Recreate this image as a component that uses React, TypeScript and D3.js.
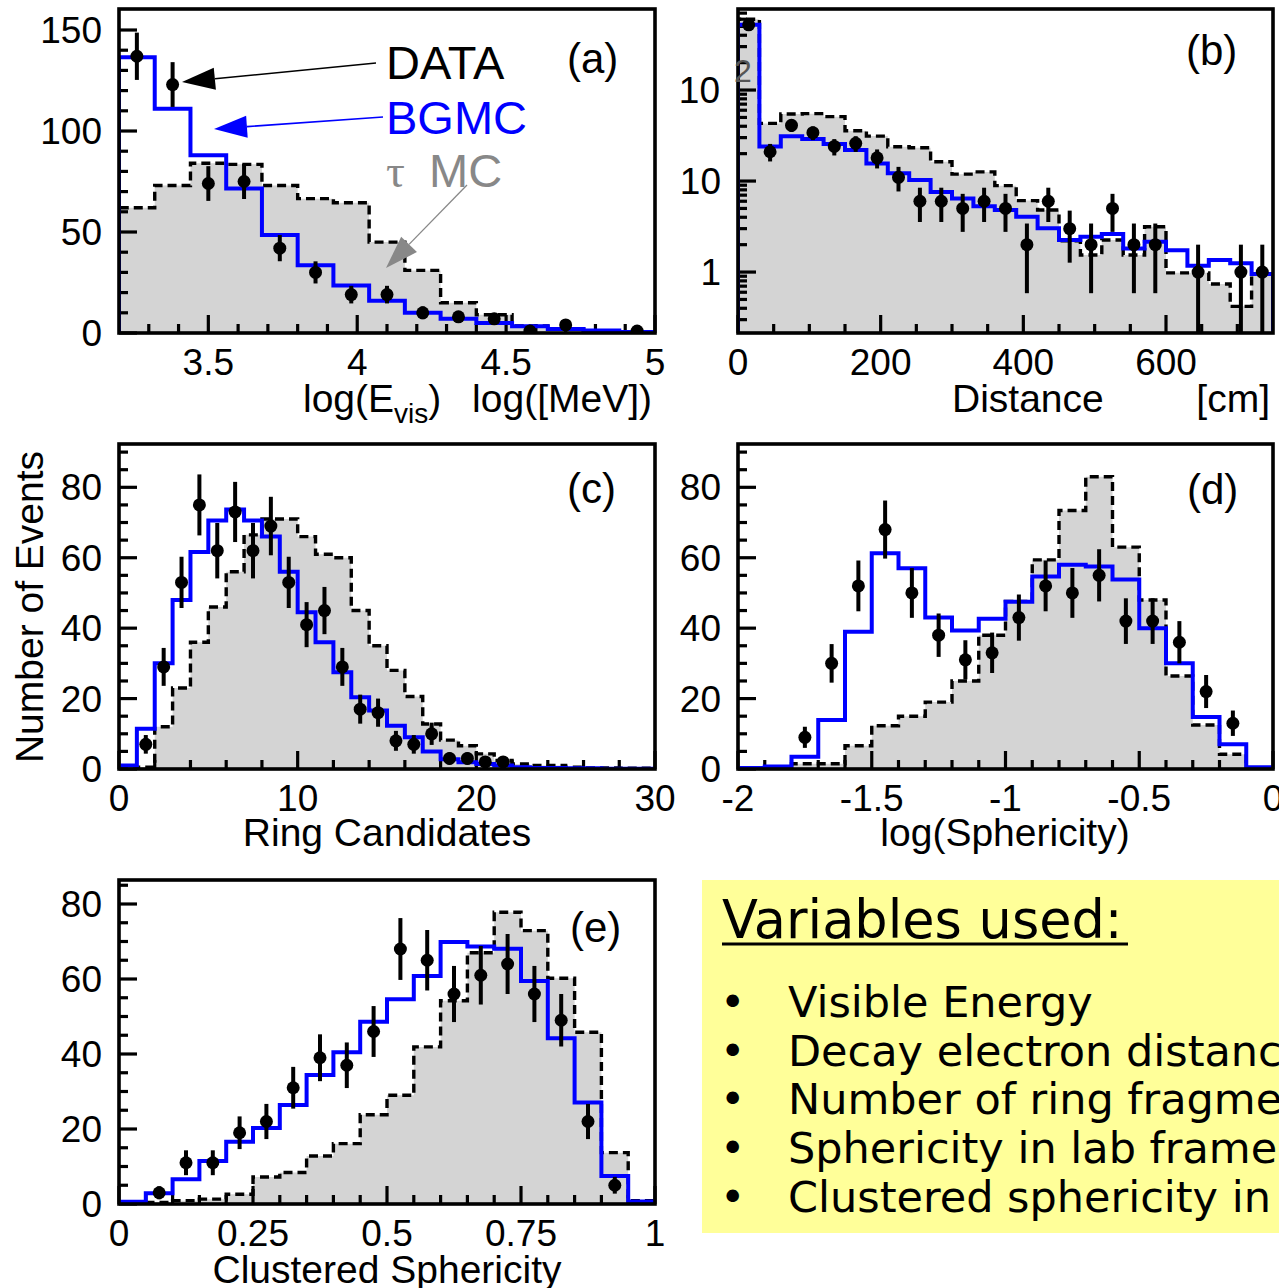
import React from 'react';
import * as d3 from 'd3';

const FONT = '"Liberation Sans", Arial, Helvetica, sans-serif';
const BOX_FONT = '"DejaVu Sans", Verdana, sans-serif';
const BLUE = '#0000ff';
const FILL = '#d4d4d4';

// (a) visible energy, log10(E / MeV): 15 bins of 0.12 from 3.2
const evisBinStart = 3.2;
const evisBinWidth = 0.12;
const evisBGMC = [136.5, 111, 88, 71.5, 48.5, 33.5, 23.5, 16, 10, 7, 5, 3.3, 2, 1.2, 0.5];
const evisTauMC = [62, 73, 84, 83.5, 73, 66.5, 64.5, 45, 31, 15, 9, 3.5, 2, 1, 0.5];
const evisData = [137, 123, 74, 75, 42, 30, 19, 19, 10, 8, 7, 1, 4, 0, 1];

// (b) decay electron distance [cm]: 25 bins of 30 cm
const distBinStart = 0;
const distBinWidth = 30;
const distBGMC = [520, 24, 31, 29, 25.5, 21.9, 15.6, 12.2, 10.3, 7.6, 6.45, 5.3, 4.8, 4.05, 3.02, 2.25, 2.44, 2.62, 1.82, 2.15, 1.74, 1.17, 1.36, 1.25, 0.95];
const distTauMC = [600, 43, 54.5, 55, 51, 35.7, 31.2, 23.8, 23.2, 16.3, 11.9, 12.6, 8.9, 6.1, 4.8, 2.2, 1.54, 2.25, 1.54, 3.15, 0.98, 0.98, 0.74, 0.42, 0.95];
const distData = [520, 21, 41, 34, 24, 26, 18, 11, 6, 6, 5, 6, 5, 2, 6, 3, 2, 5, 2, 2, 0, 1, 0, 1, 1];

// (c) number of ring candidates: 30 unit bins
const ringBinStart = 0;
const ringBinWidth = 1;
const ringBGMC = [1, 11.4, 30, 48, 61.6, 70.6, 73.7, 70.6, 66, 56, 44.5, 36, 27.5, 20.4, 16.6, 12.3, 9, 5, 2.8, 1.9, 1.4, 1, 0.5, 0.3, 0.3, 0.2, 0.2, 0.1, 0.1, 0.1];
const ringTauMC = [0, 0.5, 12, 23, 36, 46, 56, 66.5, 71, 71, 66, 61, 60, 45, 35, 28, 20.6, 12.8, 8.2, 6.6, 4.3, 2.4, 1.4, 1, 1, 0.5, 0.3, 0.3, 0.2, 0.2];
const ringData = [0, 7, 29, 53, 75, 62, 73, 62, 69, 53, 41, 45, 29, 17, 16, 8, 7, 10, 3, 3, 2, 2, 0, 0, 0, 0, 0, 0, 0, 0];

// (d) log10(sphericity): 20 bins of 0.1 from -2
const spherBinStart = -2;
const spherBinWidth = 0.1;
const spherBGMC = [0.3, 0.7, 3.5, 13.9, 39, 61.3, 57, 43, 39.3, 42.7, 47.5, 54.7, 58, 57.5, 53.8, 40, 30, 14.8, 7, 0.5];
const spherTauMC = [0, 0.2, 1.5, 1.5, 6.6, 12.3, 15, 19, 25, 38, 47.6, 59.4, 73.4, 83, 63, 48, 26.4, 12.5, 4.2, 0.3];
const spherData = [0, 0, 9, 30, 52, 68, 50, 38, 31, 33, 43, 52, 50, 55, 42, 42, 36, 22, 13, 0];

// (e) clustered sphericity: 20 bins of 0.05
const clusBinStart = 0;
const clusBinWidth = 0.05;
const clusBGMC = [0.6, 2.9, 6.6, 11.5, 16.6, 20.3, 26.4, 34.4, 40.5, 48.6, 54.6, 60.8, 69.9, 68.7, 68.1, 59.5, 44.2, 27.1, 7.5, 0.7];
const clusTauMC = [0.2, 0.4, 0.9, 1.3, 2.6, 7.2, 8.4, 12.8, 16.1, 23.8, 29, 41.9, 54.2, 67, 77.8, 72.9, 60.2, 45.8, 13.7, 0.9];
const clusData = [0, 3, 11, 11, 19, 22, 31, 39, 37, 46, 68, 65, 56, 61, 64, 56, 49, 22, 5, 0];

// tick values
const evisXMajor = [3.5, 4, 4.5, 5];
const evisYMajor = [0, 50, 100, 150];
const distXMajor = [0, 200, 400, 600];
const distYMajor = [1, 10, 100];
const ringXMajor = [0, 10, 20, 30];
const countYMajor = [0, 20, 40, 60, 80];
const spherXMajor = [-2, -1.5, -1, -0.5, 0];
const clusXMajor = [0, 0.25, 0.5, 0.75, 1];

const variableItems = [
  'Visible Energy',
  'Decay electron distance',
  'Number of ring fragments',
  'Sphericity in lab frame',
  'Clustered sphericity in CM frame',
];

type Spec = {
  key: string;
  left: number; right: number; top: number; bottom: number;
  xDomain: [number, number];
  yDomain: [number, number];
  logY?: boolean;
  binStart: number; binWidth: number;
  bg: number[]; tau: number[]; data: number[];
  xMajor: number[]; xMinor: number[]; xFmt: (v: number) => string;
  yMajor: number[]; yMinor: number[];
  tag: string; tagX: number; tagY: number;
};

function notMajor(vals: number[], majors: number[]) {
  return vals.filter(v => !majors.some(m => Math.abs(m - v) < 1e-6));
}

function Panel({ s }: { s: Spec }) {
  const x = d3.scaleLinear().domain(s.xDomain).range([s.left, s.right]);
  const y: any = s.logY
    ? d3.scaleLog().domain(s.yDomain).range([s.bottom, s.top])
    : d3.scaleLinear().domain(s.yDomain).range([s.bottom, s.top]);
  const base = s.yDomain[0];
  const yc = (v: number) => y(Math.max(v, base));

  const steps = (vals: number[]): [number, number][] => {
    const pts: [number, number][] = [[s.binStart, base]];
    vals.forEach((v, i) => {
      pts.push([s.binStart + i * s.binWidth, v]);
      pts.push([s.binStart + (i + 1) * s.binWidth, v]);
    });
    pts.push([s.binStart + vals.length * s.binWidth, base]);
    return pts;
  };
  const line = d3.line<[number, number]>().x(d => x(d[0])).y(d => yc(d[1]));
  const area = d3.area<[number, number]>().x(d => x(d[0])).y0(s.bottom).y1(d => yc(d[1]));
  const clipId = `clip-${s.key}`;

  const majorLen = 18;
  const minorLen = 9;

  return (
    <g>
      <defs>
        <clipPath id={clipId}>
          <rect x={s.left} y={s.top} width={s.right - s.left} height={s.bottom - s.top} />
        </clipPath>
      </defs>
      <g clipPath={`url(#${clipId})`}>
        <path d={area(steps(s.tau)) || ''} fill={FILL} stroke="none" />
      </g>
      {/* ticks, drawn inward */}
      <g stroke="#000" strokeWidth={3.2}>
        {s.xMajor.map(v => (
          <line key={`xM${v}`} x1={x(v)} x2={x(v)} y1={s.bottom} y2={s.bottom - majorLen} />
        ))}
        {s.xMinor.map(v => (
          <line key={`xm${v}`} x1={x(v)} x2={x(v)} y1={s.bottom} y2={s.bottom - minorLen} />
        ))}
        {s.yMajor.map(v => (
          <line key={`yM${v}`} x1={s.left} x2={s.left + majorLen} y1={y(v)} y2={y(v)} />
        ))}
        {s.yMinor.map(v => (
          <line key={`ym${v}`} x1={s.left} x2={s.left + minorLen} y1={y(v)} y2={y(v)} />
        ))}
      </g>
      <g clipPath={`url(#${clipId})`}>
        <path d={line(steps(s.tau)) || ''} fill="none" stroke="#000" strokeWidth={3.4} strokeDasharray="9,5" />
        <path d={line(steps(s.bg)) || ''} fill="none" stroke={BLUE} strokeWidth={4} />
        {s.data.map((v, i) => {
          if (v <= 0) return null;
          const cx = x(s.binStart + (i + 0.5) * s.binWidth);
          const err = Math.sqrt(v);
          return (
            <g key={`d${i}`}>
              <line x1={cx} x2={cx} y1={yc(v - err)} y2={yc(v + err)} stroke="#000" strokeWidth={4} />
              <circle cx={cx} cy={y(v)} r={6.5} fill="#000" />
            </g>
          );
        })}
      </g>
      <rect x={s.left} y={s.top} width={s.right - s.left} height={s.bottom - s.top}
        fill="none" stroke="#000" strokeWidth={3.6} />
      {/* tick labels */}
      <g fontFamily={FONT} fontSize={37} fill="#000">
        {s.xMajor.map(v => (
          <text key={`xl${v}`} x={x(v)} y={s.bottom + 42} textAnchor="middle">{s.xFmt(v)}</text>
        ))}
        {s.yMajor.map(v => {
          if (s.logY && v === 100) {
            return (
              <g key={`yl${v}`}>
                <text x={s.left - 18} y={y(v) + 13} textAnchor="end">10</text>
                <text x={s.left - 4} y={y(v) - 8} fontSize={32} fill="#555">2</text>
              </g>
            );
          }
          return (
            <text key={`yl${v}`} x={s.left - 17} y={y(v) + 13} textAnchor="end">{String(v)}</text>
          );
        })}
      </g>
      <text x={s.tagX} y={s.tagY} fontFamily={FONT} fontSize={42} fill="#000">{s.tag}</text>
    </g>
  );
}

function Arrow({ x1, y1, x2, y2, color, width }: { x1: number; y1: number; x2: number; y2: number; color: string; width: number }) {
  const a = Math.atan2(y2 - y1, x2 - x1);
  const len = 33;
  const hw = 11;
  const bx = x2 - len * Math.cos(a);
  const by = y2 - len * Math.sin(a);
  const pts = [
    [x2, y2],
    [bx + hw * Math.sin(a), by - hw * Math.cos(a)],
    [bx - hw * Math.sin(a), by + hw * Math.cos(a)],
  ].map(p => p.join(',')).join(' ');
  return (
    <g>
      <line x1={x1} y1={y1} x2={bx} y2={by} stroke={color} strokeWidth={width} />
      <polygon points={pts} fill={color} />
    </g>
  );
}

const fmt = (v: number) => String(v);

export default function App() {
  const specs: Spec[] = [
    {
      key: 'a', left: 119, right: 655, top: 9, bottom: 333,
      xDomain: [3.2, 5.0], yDomain: [0, 160.4],
      binStart: evisBinStart, binWidth: evisBinWidth,
      bg: evisBGMC, tau: evisTauMC, data: evisData,
      xMajor: evisXMajor, xMinor: notMajor(d3.range(33, 50).map(v => v / 10), evisXMajor), xFmt: fmt,
      yMajor: evisYMajor, yMinor: notMajor(d3.range(10, 151, 10), evisYMajor),
      tag: '(a)', tagX: 567, tagY: 73,
    },
    {
      key: 'b', left: 738, right: 1273, top: 9, bottom: 333,
      xDomain: [0, 750], yDomain: [0.214, 777], logY: true,
      binStart: distBinStart, binWidth: distBinWidth,
      bg: distBGMC, tau: distTauMC, data: distData,
      xMajor: distXMajor, xMinor: notMajor(d3.range(50, 750, 50), distXMajor), xFmt: fmt,
      yMajor: distYMajor,
      yMinor: [0.3, 0.4, 0.5, 0.6, 0.7, 0.8, 0.9, 2, 3, 4, 5, 6, 7, 8, 9, 20, 30, 40, 50, 60, 70, 80, 90, 200, 300, 400, 500, 600, 700],
      tag: '(b)', tagX: 1186, tagY: 65,
    },
    {
      key: 'c', left: 119, right: 655, top: 444, bottom: 769,
      xDomain: [0, 30], yDomain: [0, 92.3],
      binStart: ringBinStart, binWidth: ringBinWidth,
      bg: ringBGMC, tau: ringTauMC, data: ringData,
      xMajor: ringXMajor, xMinor: notMajor(d3.range(2, 30, 2), ringXMajor), xFmt: fmt,
      yMajor: countYMajor, yMinor: notMajor(d3.range(5, 91, 5), countYMajor),
      tag: '(c)', tagX: 567, tagY: 503,
    },
    {
      key: 'd', left: 738, right: 1273, top: 444, bottom: 769,
      xDomain: [-2, 0], yDomain: [0, 92.3],
      binStart: spherBinStart, binWidth: spherBinWidth,
      bg: spherBGMC, tau: spherTauMC, data: spherData,
      xMajor: spherXMajor, xMinor: notMajor(d3.range(-19, 0).map(v => v / 10), spherXMajor), xFmt: fmt,
      yMajor: countYMajor, yMinor: notMajor(d3.range(5, 91, 5), countYMajor),
      tag: '(d)', tagX: 1187, tagY: 504,
    },
    {
      key: 'e', left: 119, right: 655, top: 880, bottom: 1204,
      xDomain: [0, 1], yDomain: [0, 86.4],
      binStart: clusBinStart, binWidth: clusBinWidth,
      bg: clusBGMC, tau: clusTauMC, data: clusData,
      xMajor: clusXMajor, xMinor: notMajor(d3.range(1, 20).map(v => v / 20), clusXMajor), xFmt: fmt,
      yMajor: countYMajor, yMinor: notMajor(d3.range(5, 86, 5), countYMajor),
      tag: '(e)', tagX: 570, tagY: 942,
    },
  ];

  return (
    <svg width={1279} height={1288} style={{ position: 'absolute', left: 0, top: 0, background: '#fff' }}>
      <rect x={0} y={0} width={1279} height={1288} fill="#fff" />
      {specs.map(s => <Panel key={s.key} s={s} />)}

      {/* legend annotations in (a) */}
      <g fontFamily={FONT} fontSize={47}>
        <text x={386} y={79} fill="#000">DATA</text>
        <text x={386} y={134} fill={BLUE}>BGMC</text>
        <text x={386} y={187} fill="#888">
          <tspan fontFamily='"Liberation Serif", "DejaVu Serif", serif'>τ</tspan>
          <tspan x={429}>MC</tspan>
        </text>
      </g>
      <Arrow x1={376} y1={63} x2={182} y2={82} color="#000" width={1.6} />
      <Arrow x1={383} y1={117} x2={214} y2={129} color={BLUE} width={1.6} />
      <Arrow x1={467} y1={185} x2={386} y2={268} color="#888" width={1.3} />

      {/* axis titles */}
      <g fontFamily={FONT} fontSize={39} fill="#000">
        <text x={303} y={412}>log(E<tspan fontSize={28} dy={11}>vis</tspan><tspan dy={-11}>)</tspan></text>
        <text x={652} y={412} textAnchor="end">log([MeV])</text>
        <text x={952} y={412}>Distance</text>
        <text x={1270} y={412} textAnchor="end">[cm]</text>
        <text x={387} y={846} textAnchor="middle">Ring Candidates</text>
        <text x={1005} y={846} textAnchor="middle">log(Sphericity)</text>
        <text x={387} y={1283} textAnchor="middle">Clustered Sphericity</text>
        <text transform="translate(43,607) rotate(-90)" textAnchor="middle">Number of Events</text>
      </g>

      {/* variables box */}
      <rect x={702} y={880} width={600} height={353} fill="#ffff99" />
      <g fontFamily={BOX_FONT} fill="#000">
        <text x={722} y={938} fontSize={52.5}>Variables used:</text>
        <line x1={722} x2={1128} y1={944} y2={944} stroke="#000" strokeWidth={3} />
        {variableItems.map((t, i) => (
          <g key={t}>
            <text x={720} y={1017 + i * 48.7} fontSize={43}>•</text>
            <text x={788} y={1017 + i * 48.7} fontSize={43}>{t}</text>
          </g>
        ))}
      </g>
    </svg>
  );
}
